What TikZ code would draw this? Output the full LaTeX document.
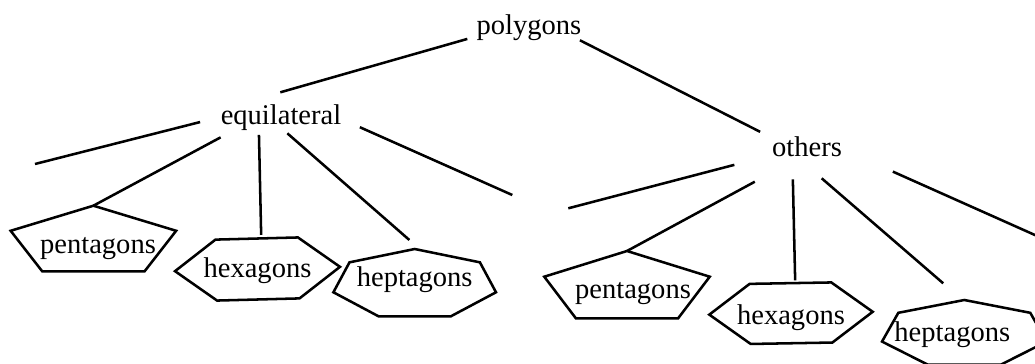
\documentclass[tikz,border=0pt]{standalone}
\usepackage{fontspec}
\setmainfont{Liberation Serif}

\begin{document}
\begin{tikzpicture}[x=0.025cm, y=-0.025cm, line width=1.8pt, font=\fontsize{20.3}{24}\selectfont]
  \tikzstyle{word}=[rectangle, inner xsep=0pt, inner ysep=0.05cm, outer sep=0pt, text height=0.486cm, text depth=0.2145cm]
  \tikzstyle{leaf}=[rectangle, inner sep=0pt, outer sep=0pt, text depth=0.2145cm]
  \useasboundingbox (0,0) rectangle (1035,363);

  \node[word] (poly) at (529,28.9) {polygons};
  \node[word] (eq) at (281,118.9) {equilateral};
  \node[word] (oth) at (807,151.3) {others};

  \node[leaf, minimum width=4.35cm, minimum height=1.815cm, text height=0.765cm] (e-pent) at (93.4,242) {\hspace*{0.23cm}pentagons};
  \node[leaf, minimum width=4.125cm, minimum height=1.525cm, text height=0.615cm] (e-hex) at (257.5,269) {hexagons};
  \node[leaf, minimum width=4.07cm, minimum height=1.77cm, text height=0.33cm] (e-hept) at (414.7,284.4) {heptagons};
  \node[leaf, minimum width=4.35cm, minimum height=1.86cm, text height=0.715cm] (o-pent) at (627,288.2) {\hspace*{0.3cm}pentagons};
  \node[leaf, minimum width=4.085cm, minimum height=1.503cm, text height=0.765cm] (o-hex) at (791,313.2) {hexagons};
  \node[leaf, minimum width=4.115cm, minimum height=1.7cm, text height=0.6cm] (o-hept) at (964.3,334) {\hspace*{-0.6cm}heptagons};

  \coordinate (eq-l) at (35,164);
  \coordinate (eq-r) at (512.3,195);
  \coordinate (oth-l) at (568.3,208.3);
  \coordinate (oth-r) at (1045,239.5);

  % outlines round the leaves
  \foreach \n/\k/\a/\rx/\ry/\r in {e-pent/5/-90/87/36.3/0, e-hex/6/0/82.5/35.2/1.5, e-hept/7/-90/83.4/35.4/0,
                                  o-pent/5/-90/87/37.2/0, o-hex/6/0/81.7/34.7/1, o-hept/7/-90/84.4/34/0} {
    \pgfmathtruncatemacro\km{\k-1}
    \draw[shift={(\n.center)}, rotate=\r] ({\rx*cos(\a)},{\ry*sin(\a)})
      \foreach \i in {1,...,\km} { -- ({\rx*cos(\a+\i*360/\k)},{\ry*sin(\a+\i*360/\k)}) } -- cycle;
  }

  \foreach \from/\to/\s/\e in {poly.188/eq.157/0.243cm/0.963cm, poly.347/oth.159/-0.04cm/0.335cm,
                              eq.178/eq-l/0.533cm/0cm, eq.196/e-pent.north/0.128cm/0cm,
                              eq.216/e-hex.83/0cm/0.088cm, eq.297/e-hept.82/-0.06cm/0.343cm,
                              eq.0/eq-r/0.51cm/0cm, oth.186/oth-l/0.975cm/0cm,
                              oth.212/o-pent.north/0.755cm/0cm, oth.228/o-hex.82/0.3cm/0.068cm,
                              oth.277/o-hept.93/0.42cm/0.638cm, oth.4/oth-r/1.395cm/0cm}
    \draw[shorten <=\s, shorten >=\e] (\from) -- (\to);
\end{tikzpicture}
\end{document}
